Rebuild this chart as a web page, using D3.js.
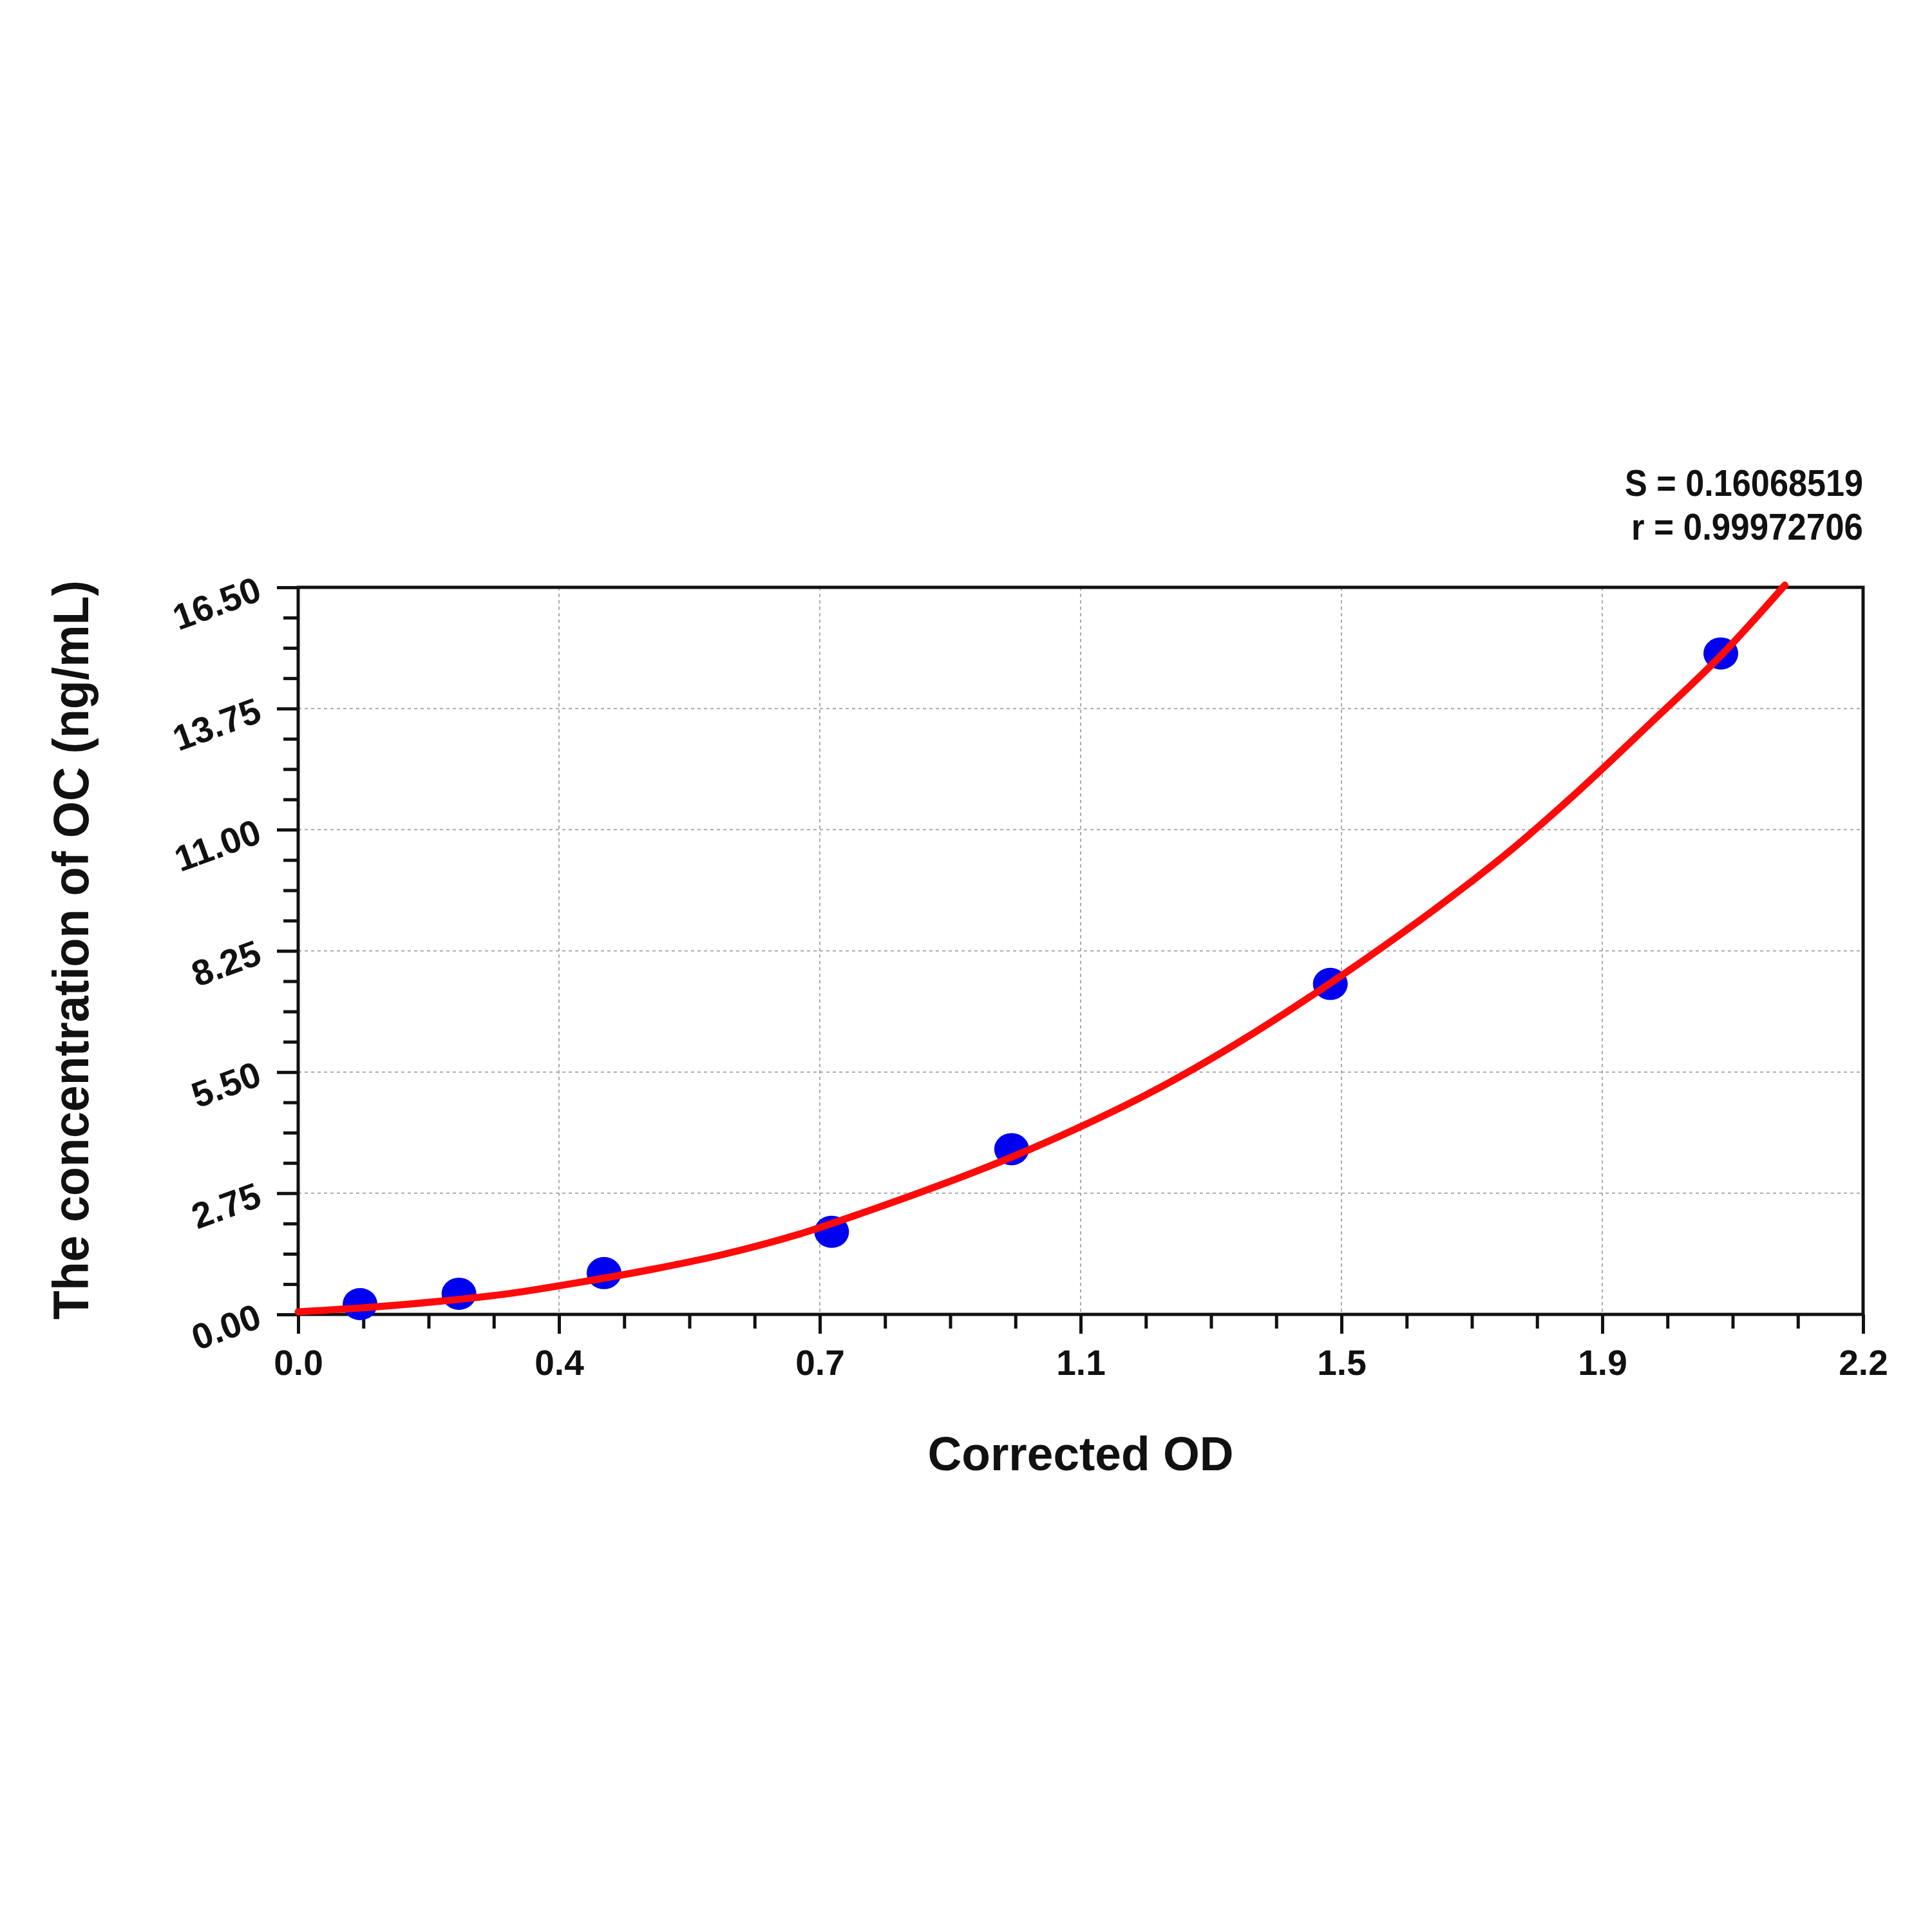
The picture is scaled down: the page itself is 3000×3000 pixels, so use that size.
<!DOCTYPE html>
<html>
<head>
<meta charset="utf-8">
<script src="https://cdn.jsdelivr.net/npm/d3@7/dist/d3.min.js"></script>
<style>
  html, body { margin: 0; padding: 0; background: #fff; }
  svg { display: block; }
  text { font-family: "Liberation Sans", Arial, sans-serif; font-weight: bold; fill: #111; }
</style>
</head>
<body>
<svg id="chart" width="3000" height="3000"></svg>
<script>
// ---- Data ----
const pointOD   = [0.087, 0.226, 0.430, 0.750, 1.003, 1.451, 2.000];
const pointConc = [0.234, 0.469, 0.938, 1.875, 3.75, 7.5, 15.0];

const curveOD   = [0.0, 0.1, 0.2, 0.3, 0.4, 0.5, 0.6, 0.7, 0.8, 0.9, 1.0, 1.1, 1.2, 1.3, 1.4, 1.5, 1.6, 1.7, 1.8, 1.9, 2.0, 2.09];
const curveConc = [0.06, 0.16, 0.30, 0.48, 0.74, 1.03, 1.37, 1.80, 2.34, 2.92, 3.55, 4.26, 5.05, 5.96, 6.97, 8.06, 9.22, 10.47, 11.88, 13.40, 14.95, 16.55];

const xTickValues = [0, 2.2/6, 4.4/6, 1.1, 8.8/6, 11/6, 2.2];
const xTickLabels = ["0.0", "0.4", "0.7", "1.1", "1.5", "1.9", "2.2"];
const yTickValues = [0, 2.75, 5.5, 8.25, 11, 13.75, 16.5];
const yTickLabels = ["0.00", "2.75", "5.50", "8.25", "11.00", "13.75", "16.50"];

const statLines = ["S = 0.16068519", "r = 0.99972706"];
const xTitle = "Corrected OD";
const yTitle = "The concentration of OC (ng/mL)";

// ---- Layout ----
const L = 463, R = 2893, T = 912, B = 2041;
const svg = d3.select("#chart");
svg.append("rect").attr("width", 3000).attr("height", 3000).attr("fill", "#fff");

const x = d3.scaleLinear().domain([0, 2.2]).range([L, R]);
const y = d3.scaleLinear().domain([0, 16.5]).range([B, T]);

// Grid
const grid = svg.append("g");
grid.selectAll("line.gx").data(xTickValues.slice(1, -1)).join("line")
  .attr("x1", d => x(d)).attr("x2", d => x(d)).attr("y1", T).attr("y2", B)
  .attr("stroke", "#aaaaaa").attr("stroke-width", 2).attr("stroke-dasharray", "5,5");
grid.selectAll("line.gy").data(yTickValues.slice(1, -1)).join("line")
  .attr("y1", d => y(d)).attr("y2", d => y(d)).attr("x1", L).attr("x2", R)
  .attr("stroke", "#aaaaaa").attr("stroke-width", 2).attr("stroke-dasharray", "5,5");

// Minor ticks
const xMinor = d3.range(0, 25).map(i => i * 2.2 / 24).filter((d, i) => i % 4 !== 0);
const yMinor = d3.range(0, 25).map(i => i * 16.5 / 24).filter((d, i) => i % 4 !== 0);

const xAxisMinor = d3.axisBottom(x).tickValues(xMinor).tickSize(22).tickFormat("");
const xAxisMajor = d3.axisBottom(x).tickValues(xTickValues).tickSize(30)
  .tickFormat((d, i) => xTickLabels[i]);
const yAxisMinor = d3.axisLeft(y).tickValues(yMinor).tickSize(23).tickFormat("");
const yAxisMajor = d3.axisLeft(y).tickValues(yTickValues).tickSize(33).tickFormat("");

function styleAxis(g) {
  g.select(".domain").remove();
  g.selectAll(".tick line").attr("stroke", "#111").attr("stroke-width", 5);
}
svg.append("g").attr("transform", `translate(0,${B})`).call(xAxisMinor).call(styleAxis);
const gx = svg.append("g").attr("transform", `translate(0,${B})`).call(xAxisMajor).call(styleAxis);
gx.selectAll(".tick text").attr("font-size", 55).attr("font-family", "Liberation Sans, Arial, sans-serif")
  .attr("font-weight", "bold").attr("fill", "#111").attr("dy", null).attr("y", 94);

svg.append("g").attr("transform", `translate(${L},0)`).call(yAxisMinor).call(styleAxis);
svg.append("g").attr("transform", `translate(${L},0)`).call(yAxisMajor).call(styleAxis);

// Rotated y tick labels
svg.append("g").selectAll("text").data(yTickValues).join("text")
  .attr("transform", d => `translate(402,${y(d)}) rotate(-20)`)
  .attr("text-anchor", "end").attr("dy", "0.36em")
  .attr("font-size", 56)
  .text((d, i) => yTickLabels[i]);

// Frame
svg.append("rect").attr("x", L).attr("y", T).attr("width", R - L).attr("height", B - T)
  .attr("fill", "none").attr("stroke", "#111").attr("stroke-width", 5);

// Points
svg.append("g").selectAll("ellipse").data(pointOD).join("ellipse")
  .attr("cx", d => x(d)).attr("cy", (d, i) => y(pointConc[i]))
  .attr("rx", 27).attr("ry", 25).attr("fill", "#0000f0");

// Fitted curve
const line = d3.line().x(d => x(d[0])).y(d => y(d[1])).curve(d3.curveCatmullRom);
svg.append("path").datum(curveOD.map((d, i) => [d, curveConc[i]]))
  .attr("d", line).attr("fill", "none").attr("stroke", "#ff0a0a")
  .attr("stroke-width", 11).attr("stroke-linecap", "round").attr("stroke-linejoin", "round");

// Titles
svg.append("text").attr("x", 1678).attr("y", 2283).attr("text-anchor", "middle")
  .attr("font-size", 74).attr("textLength", 475).attr("lengthAdjust", "spacingAndGlyphs")
  .text(xTitle);

svg.append("text").attr("transform", "translate(137,1475) rotate(-90)").attr("text-anchor", "middle")
  .attr("font-size", 78).attr("textLength", 1148).attr("lengthAdjust", "spacingAndGlyphs")
  .text(yTitle);

// Stats
svg.append("text").attr("x", 2893).attr("y", 770).attr("text-anchor", "end")
  .attr("font-size", 57).attr("textLength", 370).attr("lengthAdjust", "spacingAndGlyphs")
  .text(statLines[0]);
svg.append("text").attr("x", 2893).attr("y", 838).attr("text-anchor", "end")
  .attr("font-size", 57).attr("textLength", 360).attr("lengthAdjust", "spacingAndGlyphs")
  .text(statLines[1]);
</script>
</body>
</html>
